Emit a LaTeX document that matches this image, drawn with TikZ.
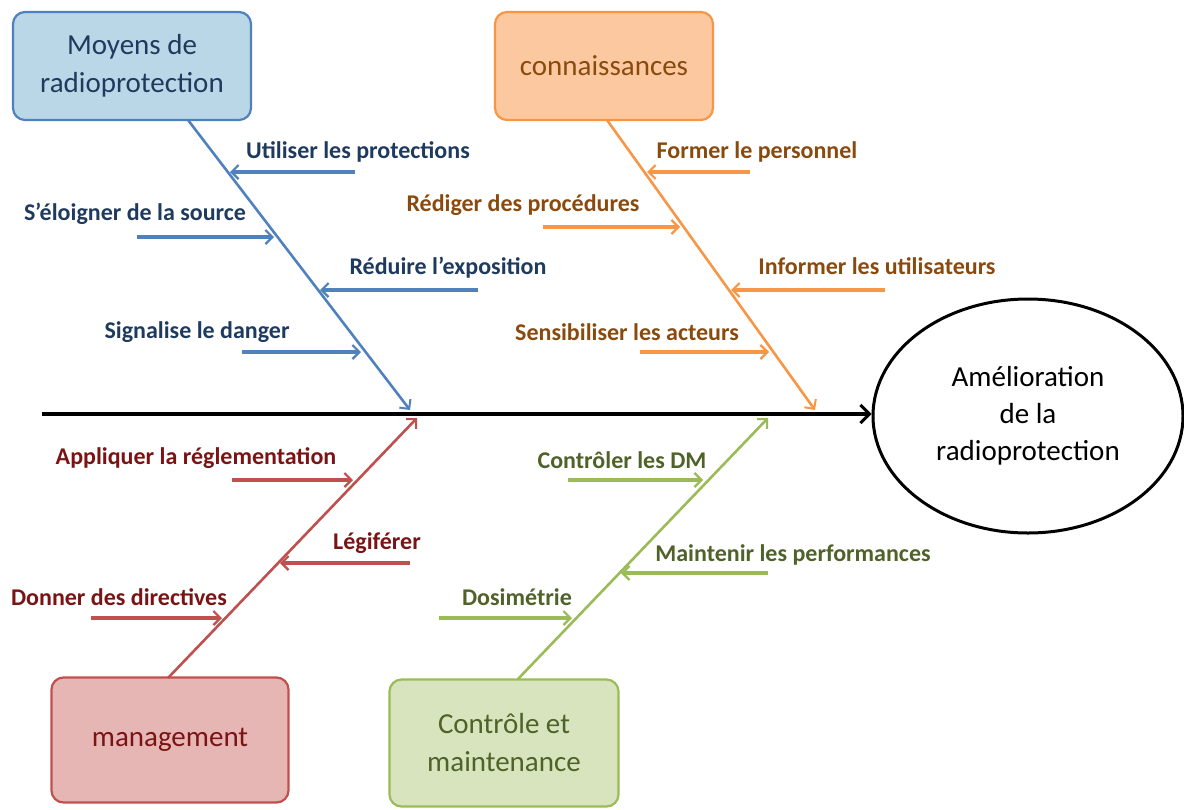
\documentclass[tikz,border=0pt]{standalone}
\usepackage{fontspec}
\setmainfont{Carlito}
\usetikzlibrary{arrows.meta, shapes.geometric, positioning}

\definecolor{bleu}{HTML}{4F81BD}
\definecolor{bleufond}{HTML}{B9D7E6}
\definecolor{bleutxt}{HTML}{1F3A5F}
\definecolor{orangeos}{HTML}{F79646}
\definecolor{orangefond}{HTML}{FBC8A0}
\definecolor{orangetxt}{HTML}{8A4A0E}
\definecolor{rouge}{HTML}{C0504D}
\definecolor{rougefond}{HTML}{E6B6B5}
\definecolor{rougetxt}{HTML}{7A1414}
\definecolor{vert}{HTML}{9BBB59}
\definecolor{vertfond}{HTML}{D7E4BD}
\definecolor{verttxt}{HTML}{4F6228}

\tikzset{
  cause/.style={draw, line width=2.2pt, rounded corners=12pt, align=center,
    font=\fontsize{29}{38}\selectfont},
  lab/.style={font=\bfseries\fontsize{24}{26}\selectfont},
  bone/.style={line width=2.6pt, -{Straight Barb[length=7pt, width=14pt, line width=2pt]}},
  sub/.style={line width=3.2pt, -{Straight Barb[length=7pt, width=14pt, line width=2.2pt]}},
}

\begin{document}
\begin{tikzpicture}[x=1pt, y=-1pt]
	\useasboundingbox (0,0) rectangle (1184,809);

	% effet
	\node[ellipse, draw, line width=3pt, minimum width=310pt, minimum height=234pt, align=center,
		font=\fontsize{29}{37}\selectfont] (but) at (1028,416) {Amélioration\\de la\\radioprotection};
	\coordinate (queue) at (42,414);
	\draw[line width=4.5pt, -{Straight Barb[length=9pt, width=18pt, line width=3pt]}] (queue) -- (queue -| but.west);

	% causes
	\node[cause, bleu, fill=bleufond, text=bleutxt, minimum width=238pt, minimum height=108pt] (moyens) at (132,66) {Moyens de\\radioprotection};
	\node[cause, orangeos, fill=orangefond, text=orangetxt, minimum width=218pt, minimum height=108pt] (connais) at (604,66) {connaissances};
	\node[cause, rouge, fill=rougefond, text=rougetxt, minimum width=237pt, minimum height=125pt] (manag) at (170,740) {management};
	\node[cause, vert, fill=vertfond, text=verttxt, minimum width=229pt, minimum height=127pt] (controle) at (504,743) {Contrôle et\\maintenance};

	% aretes
	\coordinate (mtop) at (188,120);	\coordinate (mbot) at (410,410);
	\coordinate (ctop) at (607,120);	\coordinate (cbot) at (815,410);
	\coordinate (gbot) at (168,678);	\coordinate (gtop) at (417,418);
	\coordinate (vbot) at (518,679);	\coordinate (vtop) at (768,418);
	\draw[bone, bleu] (mtop) -- (mbot);
	\draw[bone, orangeos] (ctop) -- (cbot);
	\draw[bone, rouge] (gbot) -- (gtop);
	\draw[bone, vert] (vbot) -- (vtop);

	% moyens de radioprotection
	\node[lab, text=bleutxt] (utiliser) at (358,152) {Utiliser les protections};
	\node[lab, text=bleutxt] (eloigner) at (135,214) {S’éloigner de la source};
	\node[lab, text=bleutxt] (reduire) at (448,268) {Réduire l’exposition};
	\node[lab, text=bleutxt] (signal) at (197,332) {Signalise le danger};
	\coordinate (u1) at (355,172);	\coordinate (u2) at (230,172);
	\coordinate (e1) at (137,237);	\coordinate (e2) at (274,237);
	\coordinate (r1) at (478,290);	\coordinate (r2) at (320,290);
	\coordinate (s1) at (242,352);	\coordinate (s2) at (361,352);
	\draw[sub, bleu] (u1) -- (u2);
	\draw[sub, bleu] (e1) -- (e2);
	\draw[sub, bleu] (r1) -- (r2);
	\draw[sub, bleu] (s1) -- (s2);

	% connaissances
	\node[lab, text=orangetxt] (former) at (757,152) {Former le personnel};
	\node[lab, text=orangetxt] (rediger) at (523,205) {Rédiger des procédures};
	\node[lab, text=orangetxt] (informer) at (877,266) {Informer les utilisateurs};
	\node[lab, text=orangetxt] (sensib) at (627,332) {Sensibiliser les acteurs};
	\coordinate (f1) at (750,172);	\coordinate (f2) at (647,172);
	\coordinate (d1) at (543,227);	\coordinate (d2) at (680,227);
	\coordinate (i1) at (885,290);	\coordinate (i2) at (731,290);
	\coordinate (n1) at (640,352);	\coordinate (n2) at (769,352);
	\draw[sub, orangeos] (f1) -- (f2);
	\draw[sub, orangeos] (d1) -- (d2);
	\draw[sub, orangeos] (i1) -- (i2);
	\draw[sub, orangeos] (n1) -- (n2);

	% management
	\node[lab, text=rougetxt] (appliquer) at (196,458) {Appliquer la réglementation};
	\node[lab, text=rougetxt] (legiferer) at (377,543) {Légiférer};
	\node[lab, text=rougetxt] (donner) at (119,597) {Donner des directives};
	\coordinate (a1) at (232,480);	\coordinate (a2) at (353,480);
	\coordinate (l1) at (410,563);	\coordinate (l2) at (280,563);
	\coordinate (o1) at (91,618);	\coordinate (o2) at (222,618);
	\draw[sub, rouge] (a1) -- (a2);
	\draw[sub, rouge] (l1) -- (l2);
	\draw[sub, rouge] (o1) -- (o2);

	% controle et maintenance
	\node[lab, text=verttxt] (ctrl) at (622,460) {Contrôler les DM};
	\node[lab, text=verttxt] (maint) at (793,555) {Maintenir les performances};
	\node[lab, text=verttxt] (dosi) at (517,597) {Dosimétrie};
	\coordinate (c1) at (568,480);	\coordinate (c2) at (703,480);
	\coordinate (m1) at (768,573);	\coordinate (m2) at (621,573);
	\coordinate (t1) at (439,618);	\coordinate (t2) at (572,618);
	\draw[sub, vert] (c1) -- (c2);
	\draw[sub, vert] (m1) -- (m2);
	\draw[sub, vert] (t1) -- (t2);
\end{tikzpicture}
\end{document}
